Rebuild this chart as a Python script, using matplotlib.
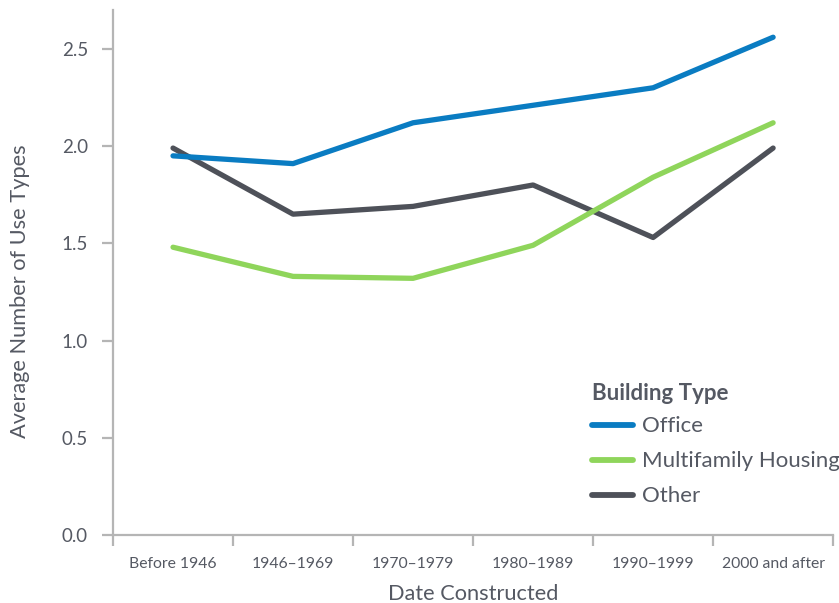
import matplotlib
matplotlib.use("Agg")
import matplotlib.pyplot as plt

plt.rcParams.update({
    "font.family": ["Lato", "DejaVu Sans"],
    "text.color": "#555963",
    "axes.labelcolor": "#555963",
    "xtick.color": "#555963",
    "ytick.color": "#555963",
})

periods = ["Before 1946", "1946\u20131969", "1970\u20131979",
           "1980\u20131989", "1990\u20131999", "2000 and after"]
office = [1.95, 1.91, 2.12, 2.21, 2.30, 2.56]
multifamily = [1.48, 1.33, 1.32, 1.49, 1.84, 2.12]
other = [1.99, 1.65, 1.69, 1.80, 1.53, 1.99]

series = [
    ("Office", office, "#0a7cc2", 3),
    ("Multifamily Housing", multifamily, "#8fd55b", 2),
    ("Other", other, "#4e5159", 1),
]

AXIS_GREY = "#b5b5b5"

fig = plt.figure(figsize=(8.39, 6.03), dpi=100)
ax = fig.add_axes([0.1347, 0.1128, 0.8583, 0.8706])

x = list(range(len(periods)))
handles = []
for name, vals, col, z in series:
    (ln,) = ax.plot(x, vals, color=col, lw=3.8, label=name, zorder=z,
                    solid_capstyle="round", solid_joinstyle="round")
    handles.append(ln)

ax.set_xlim(-0.5, len(periods) - 0.5)
ax.set_ylim(0, 2.7)
ax.set_yticks([0.0, 0.5, 1.0, 1.5, 2.0, 2.5])
ax.set_yticklabels(["0.0", "0.5", "1.0", "1.5", "2.0", "2.5"], fontsize=13.5)
ax.set_xticks(x)
ax.set_xticklabels(periods, fontsize=11.3)
ax.set_xticks([i - 0.5 for i in range(len(periods) + 1)], minor=True)
ax.tick_params(axis="x", which="major", length=0, pad=16)
ax.tick_params(axis="x", which="minor", length=8, width=1.6,
               color=AXIS_GREY)
ax.tick_params(axis="y", length=8, width=1.6, color=AXIS_GREY, pad=10)

for side in ("top", "right"):
    ax.spines[side].set_visible(False)
for side in ("left", "bottom"):
    ax.spines[side].set_color(AXIS_GREY)
    ax.spines[side].set_linewidth(1.6)

ax.set_xlabel("Date Constructed", fontsize=15.7, labelpad=9)
ax.set_ylabel("Average Number of Use Types", fontsize=15.7)
ax.yaxis.set_label_coords(-0.115, 0.465)

leg = ax.legend(handles=handles, title="Building Type", loc="upper left",
                bbox_to_anchor=(592 / 839, 1 - 383 / 603),
                bbox_transform=fig.transFigure, frameon=False,
                fontsize=16, title_fontproperties={"size": 16,
                                                   "weight": "bold"},
                handlelength=1.85, handletextpad=0.4, labelspacing=0.67,
                borderpad=0, borderaxespad=0, alignment="left")
leg._legend_box.sep = 9
for h in leg.legend_handles:
    h.set_linewidth(4.2)
    h.set_solid_capstyle("round")

fig.savefig("out.png", dpi=100)
